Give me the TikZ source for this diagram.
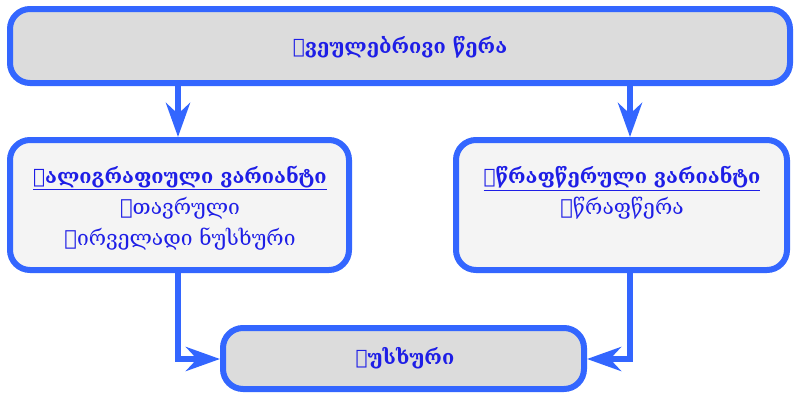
\documentclass[tikz,border=0pt]{standalone}
\usepackage{fontspec}
\setmainfont{DejaVu Serif}
\usetikzlibrary{arrows.meta}
\definecolor{edge}{HTML}{3366FF}
\definecolor{txt}{HTML}{1E1EE6}
\definecolor{darkfill}{HTML}{DCDCDC}
\definecolor{lightfill}{HTML}{F4F4F4}
\tikzset{
  box/.style={draw=edge, line width=6pt, rounded corners=20pt},
  label/.style={text=txt, align=center, inner sep=0pt},
  conn/.style={draw=edge, line width=6pt, -{Stealth[length=34pt,width=24pt,inset=11pt]}},
}
\begin{document}
\begin{tikzpicture}[x=1pt,y=-1pt]
\useasboundingbox (0,0) rectangle (795,394);
\draw[box, fill=darkfill] (10,9) rectangle (790,83);
\draw[box, fill=lightfill] (10,140) rectangle (349,270);
\draw[box, fill=lightfill] (456,140) rectangle (787,270);
\draw[box, fill=darkfill] (223,328) rectangle (584,389);
\node[label, font=\fontsize{20}{22}\selectfont\bfseries] (top) at (400,47) {Ჩვეულებრივი წერა};
\node[label, font=\fontsize{21}{31}\selectfont] (left) at (180,208) {{\fontsize{20}{31}\selectfont\bfseries\underline{Კალიგრაფიული ვარიანტი}}\\Მთავრული\\Პირველადი ნუსხური};
\node[label, font=\fontsize{21}{31}\selectfont] (right) at (622,193) {{\fontsize{20}{31}\selectfont\bfseries\underline{Სწრაფწერული ვარიანტი}}\\Სწრაფწერა};
\node[label, font=\fontsize{20}{22}\selectfont\bfseries] (bot) at (405,358) {Ნუსხური};
\coordinate (a1) at (178,86); \coordinate (a2) at (178,137);
\coordinate (b1) at (630,86); \coordinate (b2) at (630,137);
\coordinate (c1) at (178,273); \coordinate (c2) at (220,359);
\coordinate (d1) at (630,273); \coordinate (d2) at (587,359);
\draw[conn] (a1) -- (a2);
\draw[conn] (b1) -- (b2);
\draw[conn] (c1) |- (c2);
\draw[conn] (d1) |- (d2);
\end{tikzpicture}
\end{document}
